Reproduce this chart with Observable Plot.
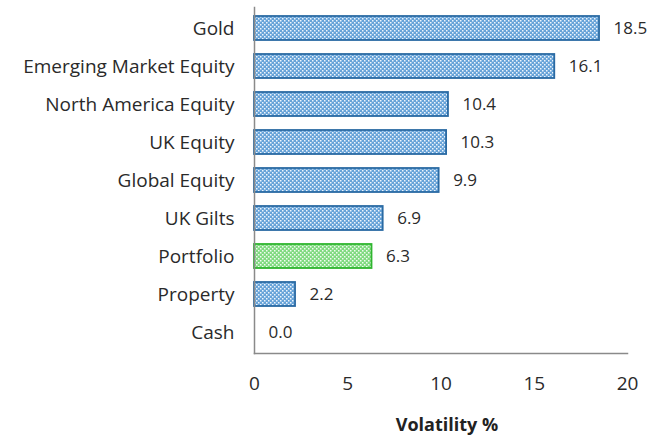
<!DOCTYPE html>
<html>
<head>
<meta charset="utf-8">
<script src="https://cdn.jsdelivr.net/npm/d3@7"></script>
<script src="https://cdn.jsdelivr.net/npm/@observablehq/plot@0.6"></script>
<style>
  html, body { margin: 0; padding: 0; background: #fff; }
  #chart svg { font-family: "Open Sans", sans-serif; }
</style>
</head>
<body>
<div id="chart"></div>
<script>
const categories = ["Gold", "Emerging Market Equity", "North America Equity", "UK Equity", "Global Equity", "UK Gilts", "Portfolio", "Property", "Cash"];
const values = [18.5, 16.1, 10.4, 10.3, 9.9, 6.9, 6.3, 2.2, 0.0];
const highlight = ["Portfolio"];
const xTicks = [0, 5, 10, 15, 20];
const xLabel = "Volatility %";

const data = categories.map((c, i) => ({category: c, value: values[i], hl: highlight.includes(c)}));

const plot = Plot.plot({
  width: 649,
  height: 437,
  marginLeft: 254,
  marginRight: 22,
  marginTop: 7,
  marginBottom: 84,
  style: {fontSize: "16px", color: "#222", background: "#fff"},
  x: {domain: [0, 20], ticks: xTicks},
  y: {domain: categories, paddingInner: 0.375, paddingOuter: 0.1875},
  marks: [
    Plot.barX(data, {
      x: "value", y: "category",
      fill: d => d.hl ? "url(#patGreen)" : "url(#patBlue)",
      stroke: d => d.hl ? "#2fb52f" : "#2a6aa3",
      strokeWidth: 1.8
    }),
    Plot.text(data, {
      x: "value", y: "category",
      text: d => d.value.toFixed(1),
      textAnchor: "start", dx: 14, fontSize: 17, fill: "#2a2a2a"
    }),
    Plot.frame({anchor: "left", stroke: "#8a8a8a", strokeWidth: 1.5}),
    Plot.frame({anchor: "bottom", stroke: "#8a8a8a", strokeWidth: 1.5}),
    Plot.axisY({tickSize: 0, tickPadding: 20, label: null, fontSize: 19, fill: "#2a2a2a"}),
    Plot.axisX({ticks: xTicks, tickSize: 0, tickPadding: 23, fontSize: 19, label: null, fill: "#2a2a2a"}),
    Plot.text([xLabel], {frameAnchor: "bottom", dy: 77, dx: 6, fontWeight: "bold", fontSize: 18, fill: "#222"})
  ]
});

// patterns
const ns = "http://www.w3.org/2000/svg";
const defs = document.createElementNS(ns, "defs");
function makePattern(id, bg, dot) {
  const p = document.createElementNS(ns, "pattern");
  p.setAttribute("id", id);
  p.setAttribute("patternUnits", "userSpaceOnUse");
  p.setAttribute("width", 4);
  p.setAttribute("height", 4);
  const r = document.createElementNS(ns, "rect");
  r.setAttribute("width", 4); r.setAttribute("height", 4); r.setAttribute("fill", bg);
  p.appendChild(r);
  for (const [x, y] of [[0, 0], [2, 2]]) {
    const d = document.createElementNS(ns, "rect");
    d.setAttribute("x", x); d.setAttribute("y", y);
    d.setAttribute("width", 1.5); d.setAttribute("height", 1.5);
    d.setAttribute("fill", dot);
    p.appendChild(d);
  }
  defs.appendChild(p);
}
makePattern("patBlue", "#67a3d8", "#eef5fc");
makePattern("patGreen", "#80da80", "#f1fbf1");
plot.insertBefore(defs, plot.firstChild);

document.getElementById("chart").appendChild(plot);
</script>
</body>
</html>
